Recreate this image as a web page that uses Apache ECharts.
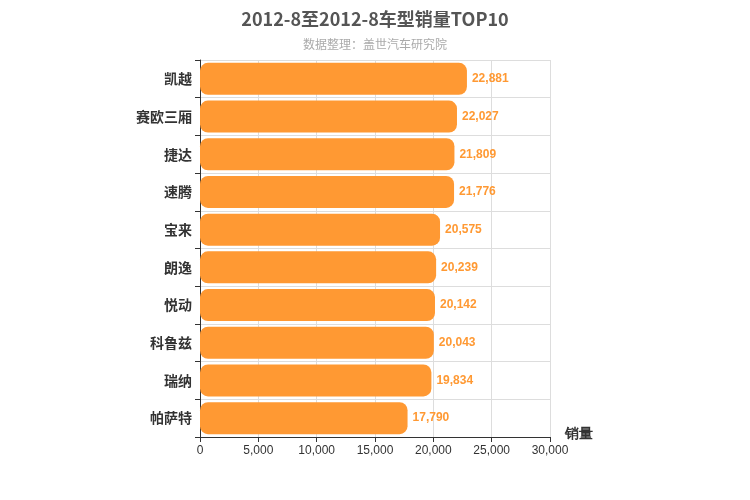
<!DOCTYPE html>
<html>
<head>
<meta charset="utf-8">
<script src="https://cdn.jsdelivr.net/npm/echarts@6/dist/echarts.min.js"></script>
<style>html,body{margin:0;padding:0;}#main{width:750px;height:500px;}</style>
</head>
<body>
<div id="main"></div>
<script>
var models = ['凯越', '赛欧三厢', '捷达', '速腾', '宝来', '朗逸', '悦动', '科鲁兹', '瑞纳', '帕萨特'];
var sales = [22881, 22027, 21809, 21776, 20575, 20239, 20142, 20043, 19834, 17790];

var myChart = echarts.init(document.getElementById('main'));
var option = {
    title: {
        text: '2012-8至2012-8车型销量TOP10',
        subtext: '数据整理：盖世汽车研究院',
        left: 'center',
        top: 5,
        itemGap: 10,
        textStyle: {fontSize: 18, fontWeight: 'bold', color: '#555', fontFamily: 'Noto Sans CJK SC'},
        subtextStyle: {fontSize: 12, color: '#aaa', fontFamily: 'Noto Sans CJK SC'}
    },
    grid: {left: 200, right: 200, top: 60, bottom: 63},
    xAxis: {
        type: 'value',
        min: 0, max: 30000, interval: 5000,
        name: '销量',
        nameLocation: 'end',
        nameGap: 15,
        nameTextStyle: {fontSize: 14, fontWeight: 'bold', color: '#333', verticalAlign: 'top', padding: [-10, 0, 0, 0]},
        axisLine: {show: true, lineStyle: {color: '#333'}},
        axisTick: {show: true},
        axisLabel: {color: '#333', fontSize: 12},
        splitLine: {lineStyle: {color: '#ddd'}}
    },
    yAxis: {
        type: 'category',
        data: models,
        inverse: true,
        axisLine: {lineStyle: {color: '#333'}},
        axisTick: {show: true},
        axisLabel: {color: '#333', fontSize: 14, fontWeight: 'bold', fontFamily: 'Noto Sans CJK SC'},
        splitLine: {show: true, lineStyle: {color: '#ddd'}}
    },
    series: [{
        type: 'bar',
        data: sales,
        barWidth: 32,
        itemStyle: {color: '#FF9933', borderRadius: 8},
        label: {
            show: true,
            position: 'right',
            color: '#FF9933',
            fontWeight: 'bold',
            fontSize: 12,
            formatter: function (p) { return p.value.toLocaleString('en-US'); }
        }
    }]
};
myChart.setOption(option);
</script>
</body>
</html>
